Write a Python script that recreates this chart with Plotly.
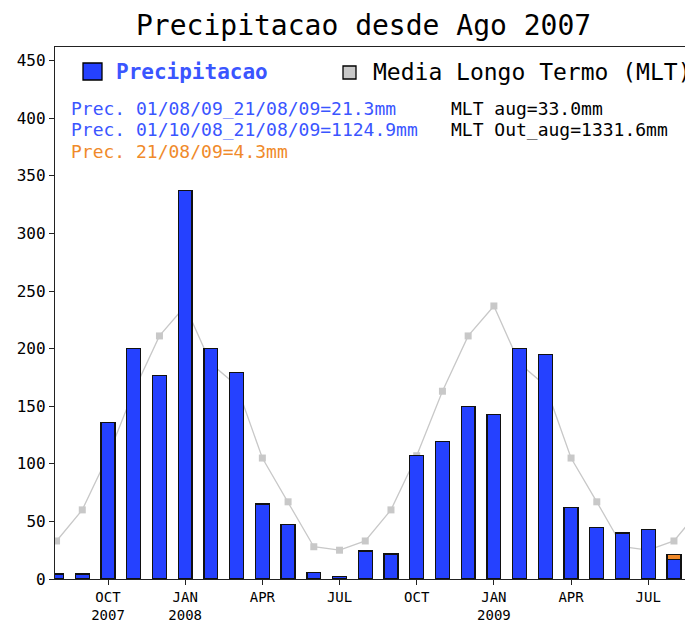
import plotly.graph_objects as go

# ---- data ----
months = ["2007-08", "2007-09", "2007-10", "2007-11", "2007-12", "2008-01", "2008-02",
          "2008-03", "2008-04", "2008-05", "2008-06", "2008-07", "2008-08", "2008-09",
          "2008-10", "2008-11", "2008-12", "2009-01", "2009-02", "2009-03", "2009-04",
          "2009-05", "2009-06", "2009-07", "2009-08", "2009-09"]
prec = [4.3, 4.3, 136, 200, 176.5, 337, 200, 179.5, 65, 47.5, 5.5, 2,
        24.3, 21.7, 107, 119.5, 150, 143, 200, 195, 62, 44.5, 40, 43, 17.0]
prec_today = [0, 0, 0, 0, 0, 0, 0, 0, 0, 0, 0, 0,
              0, 0, 0, 0, 0, 0, 0, 0, 0, 0, 0, 0, 4.3]
mlt = [33, 60, 107, 163, 211, 237, 187, 168, 105, 67, 28, 25,
       33, 60, 107, 163, 211, 237, 187, 168, 105, 67, 28, 25, 33, 60]
tick_months = ["2007-10", "2008-01", "2008-04", "2008-07", "2008-10", "2009-01", "2009-04", "2009-07"]
tick_labels = ["OCT<br>2007", "JAN<br>2008", "APR", "JUL", "OCT", "JAN<br>2009", "APR", "JUL"]
yticks = [0, 50, 100, 150, 200, 250, 300, 350, 400, 450]

FONT = "DejaVu Sans Mono"
BLUE = "#2541FF"
TXTBLUE = "#3A55FF"
ORANGE = "#F08A2A"
GRAY = "#C8C8C8"

XR = [-0.06, 24.74]
YR = [0, 461.8]

fig = go.Figure()
# MLT line on base axes (drawn underneath)
fig.add_trace(go.Scatter(x=months[:len(mlt)], y=mlt, mode="lines+markers",
                         line=dict(color=GRAY, width=1.3),
                         marker=dict(symbol="square", size=7, color=GRAY),
                         showlegend=False, hoverinfo="skip", xaxis="x", yaxis="y"))
# bars on overlaying axes (drawn above the line)
fig.add_trace(go.Bar(x=months[:len(prec)], y=prec,
                     marker=dict(color=BLUE, line=dict(color="#111111", width=1.3)),
                     width=0.54, showlegend=False, xaxis="x2", yaxis="y2"))
fig.add_trace(go.Bar(x=months[:len(prec_today)], y=prec_today,
                     marker=dict(color=ORANGE, line=dict(color="#111111", width=1.3)),
                     width=0.54, showlegend=False, xaxis="x2", yaxis="y2"))

# page body has an 8px margin, so the figure starts at page (8, 8)
fig.update_layout(
    width=685, height=616,
    margin=dict(l=47, r=0, t=39, b=45),
    paper_bgcolor="white", plot_bgcolor="white",
    barmode="stack",
    font=dict(family=FONT, color="black"),
    xaxis=dict(type="category", categoryorder="array", categoryarray=months,
               range=XR, showgrid=False, zeroline=False, automargin=False,
               showline=True, linecolor="#222222", linewidth=1.3, mirror=True,
               ticks="outside", ticklen=5, tickcolor="#222222",
               tickvals=tick_months, ticktext=tick_labels,
               tickfont=dict(family=FONT, size=14, color="black")),
    yaxis=dict(range=YR, showgrid=False, zeroline=False, automargin=False,
               showline=True, linecolor="#222222", linewidth=1.3,
               ticks="outside", ticklen=5, tickcolor="#222222",
               tickvals=yticks, tickfont=dict(family=FONT, size=16, color="black")),
    xaxis2=dict(type="category", categoryorder="array", categoryarray=months,
                range=XR, overlaying="x", visible=False, automargin=False),
    yaxis2=dict(range=YR, overlaying="y", visible=False, automargin=False),
)

# page-pixel helpers (plot area spans page x 55..693, y 47..579)
def px(xp):
    return (xp - 55) / 638

def py(yp):
    return (579 - yp) / 532

# title
fig.add_annotation(text="Precipitacao desde Ago 2007", xref="paper", yref="paper",
                   x=px(363), y=py(25), xanchor="center", yanchor="middle",
                   showarrow=False, font=dict(family=FONT, size=28, color="black"))

# legend boxes
fig.add_shape(type="rect", xref="paper", yref="paper", x0=px(83), x1=px(102), y0=py(80), y1=py(63),
              fillcolor=BLUE, line=dict(color="black", width=1.3))
fig.add_shape(type="rect", xref="paper", yref="paper", x0=px(343), x1=px(356), y0=py(79), y1=py(66),
              fillcolor=GRAY, line=dict(color="black", width=1.3))
fig.add_annotation(text="<b>Precipitacao</b>", xref="paper", yref="paper", x=px(114), y=py(72),
                   xanchor="left", yanchor="middle", showarrow=False,
                   font=dict(family=FONT, size=21, color=TXTBLUE))
fig.add_annotation(text="Media Longo Termo (MLT)", xref="paper", yref="paper", x=px(371), y=py(72),
                   xanchor="left", yanchor="middle", showarrow=False,
                   font=dict(family=FONT, size=23, color="black"))

small = [("Prec. 01/08/09_21/08/09=21.3mm", 69, 109, TXTBLUE),
         ("Prec. 01/10/08_21/08/09=1124.9mm", 69, 130, TXTBLUE),
         ("Prec. 21/08/09=4.3mm", 69, 152, ORANGE),
         ("MLT aug=33.0mm", 449, 109, "black"),
         ("MLT Out_aug=1331.6mm", 449, 130, "black")]
for t, xp, yp, c in small:
    fig.add_annotation(text=t, xref="paper", yref="paper", x=px(xp), y=py(yp),
                       xanchor="left", yanchor="middle", showarrow=False,
                       font=dict(family=FONT, size=18, color=c))

fig.write_html("out.html")
